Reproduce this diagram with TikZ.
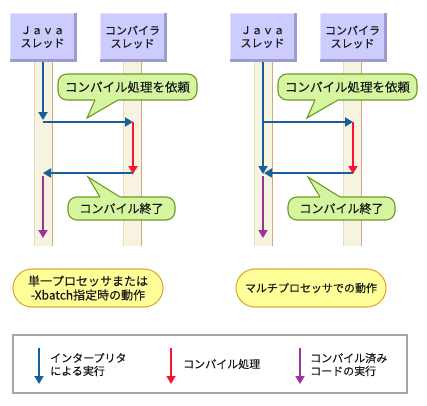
\documentclass[tikz,border=0pt]{standalone}
\usepackage{fontspec}
\newfontfamily\jp[FakeBold=0.35]{Noto Sans CJK JP}
\usetikzlibrary{arrows.meta}
\definecolor{boxfill}{HTML}{CCCCFF}
\definecolor{boxdark}{HTML}{9C9CCF}
\definecolor{boxlight}{HTML}{E4E4FF}
\definecolor{bandfill}{HTML}{F6F4E0}
\definecolor{bandedgeL}{HTML}{E4DCBC}
\definecolor{bandedgeR}{HTML}{CCAA88}
\definecolor{calfill}{HTML}{D6F5A0}
\definecolor{caledge}{HTML}{6E9A1E}
\definecolor{labfill}{HTML}{FFFF99}
\definecolor{labedge}{HTML}{DDAA33}
\definecolor{interp}{HTML}{1A5E99}
\definecolor{comp}{HTML}{FF1133}
\definecolor{compiled}{HTML}{993399}
\definecolor{txt}{HTML}{1A1A1A}
\newcommand\mythread[3]{%
  \fill[boxdark] (#1,13) rectangle ++(67,49);
  \fill[boxlight] (#1,13) rectangle ++(64,46);
  \fill[boxfill] (#1+1,14) rectangle (#1+64,59);
  \node[boxtext] (#2) at (#1+32.5,37) {#3};
}
\newcommand\myband[2]{%
  \fill[bandfill] (#1,62) rectangle (#2,246);
  \draw[bandedgeL,line width=0.8pt] (#1+0.4,62) -- (#1+0.4,246);
  \draw[bandedgeR,line width=1pt] (#2-0.5,62) -- (#2-0.5,246);
}
\begin{document}
\begin{tikzpicture}[x=1pt,y=-1pt,
  boxtext/.style={font=\jp\fontsize{11}{13}\selectfont,text=txt,align=center,inner sep=0pt},
  calloutbox/.style={draw=caledge,fill=calfill,line width=1.1pt,rounded corners=9pt,inner sep=0pt,text=txt},
  labelbox/.style={draw=labedge,fill=labfill,line width=1.1pt,rounded corners=19pt,inner sep=0pt,text=txt,align=center,minimum width=150pt,minimum height=38pt},
  legtext/.style={font=\jp\fontsize{11}{13}\selectfont,text=txt,align=left,inner sep=0pt,anchor=west},
  flow/.style={line width=1.8pt,-{Triangle[length=8pt,width=9pt]}},
  legflow/.style={line width=1.5pt,-{Triangle[length=8pt,width=9pt]}}]
\useasboundingbox (0,0) rectangle (427,405);
\fill[white] (0,0) rectangle (427,405);

\foreach \s/\p in {0/L, 220/R}{
  \begin{scope}[xshift=\s pt, name prefix=\p-]
    \myband{34}{53}
    \myband{123}{142}
    \mythread{10}{java}{Ｊａｖａ\\スレッド}
    \mythread{100}{comp}{コンパイラ\\スレッド}
    % callout 1
    \node[calloutbox,minimum width=139pt,minimum height=26pt,font=\jp\fontsize{12.5}{14}\selectfont] (req) at (127.5,87) {コンパイル処理を依頼};
    \coordinate (reqtip) at (87,118);
    \fill[calfill] (95,98.3) -- (95,100) -- (reqtip) -- (118,100) -- (118,98.3) -- cycle;
    \draw[caledge,line width=1.1pt,line join=miter] (95,100) -- (reqtip) -- (118,100);
    % callout 2
    \node[calloutbox,minimum width=107pt,minimum height=23pt,font=\jp\fontsize{12}{14}\selectfont] (done) at (121.5,208.5) {コンパイル終了};
    \coordinate (donetip) at (88,177);
    \fill[calfill] (100,198.7) -- (100,197) -- (donetip) -- (120,197) -- (120,198.7) -- cycle;
    \draw[caledge,line width=1.1pt,line join=miter] (100,197) -- (donetip) -- (120,197);
  \end{scope}
}

% left diagram arrows
\coordinate (L-a0) at (43,62);
\coordinate (L-a1) at (43,120);
\coordinate (L-h0) at (43,122);
\coordinate (L-h1) at (133,122);
\coordinate (L-r0) at (133,122);
\coordinate (L-r1) at (133,174);
\coordinate (L-b0) at (133,173);
\coordinate (L-b1) at (43,173);
\coordinate (L-p0) at (43,176);
\coordinate (L-p1) at (43,238);
\draw[flow,interp] (L-a0) -- (L-a1);
\draw[flow,interp] (L-h0) -- (L-h1);
\draw[flow,comp] (L-r0) -- (L-r1);
\draw[flow,interp] (L-b0) -- (L-b1);
\draw[flow,compiled] (L-p0) -- (L-p1);

% right diagram arrows
\coordinate (R-a0) at (263,62);
\coordinate (R-a1) at (263,174);
\coordinate (R-h0) at (263,122);
\coordinate (R-h1) at (353,122);
\coordinate (R-r0) at (353,122);
\coordinate (R-r1) at (353,174);
\coordinate (R-b0) at (353,173);
\coordinate (R-b1) at (264,173);
\coordinate (R-p0) at (263,176);
\coordinate (R-p1) at (263,238);
\draw[flow,interp] (R-a0) -- (R-a1);
\draw[flow,interp] (R-h0) -- (R-h1);
\draw[flow,comp] (R-r0) -- (R-r1);
\draw[flow,interp] (R-b0) -- (R-b1);
\draw[flow,compiled] (R-p0) -- (R-p1);

% labels
\node[labelbox,font=\jp\fontsize{12}{14}\selectfont] (lab1) at (88,288) {単一プロセッサまたは\\-Xbatch指定時の動作};
\node[labelbox,font=\jp\fontsize{11}{14}\selectfont] (lab2) at (311,288) {マルチプロセッサでの動作};

% legend
\draw[gray!70,line width=1.1pt] (13,335) rectangle (407,393);
\coordinate (g1a) at (39,348); \coordinate (g1b) at (39,384);
\coordinate (g2a) at (171,348); \coordinate (g2b) at (171,384);
\coordinate (g3a) at (300,348); \coordinate (g3b) at (300,384);
\draw[legflow,interp] (g1a) -- (g1b);
\draw[legflow,comp] (g2a) -- (g2b);
\draw[legflow,compiled] (g3a) -- (g3b);
\node[legtext] (t1) at (50,364.5) {インタープリタ\\による実行};
\node[legtext] (t2) at (183,364) {コンパイル処理};
\node[legtext] (t3) at (310,364.5) {コンパイル済み\\コードの実行};
\end{tikzpicture}
\end{document}
